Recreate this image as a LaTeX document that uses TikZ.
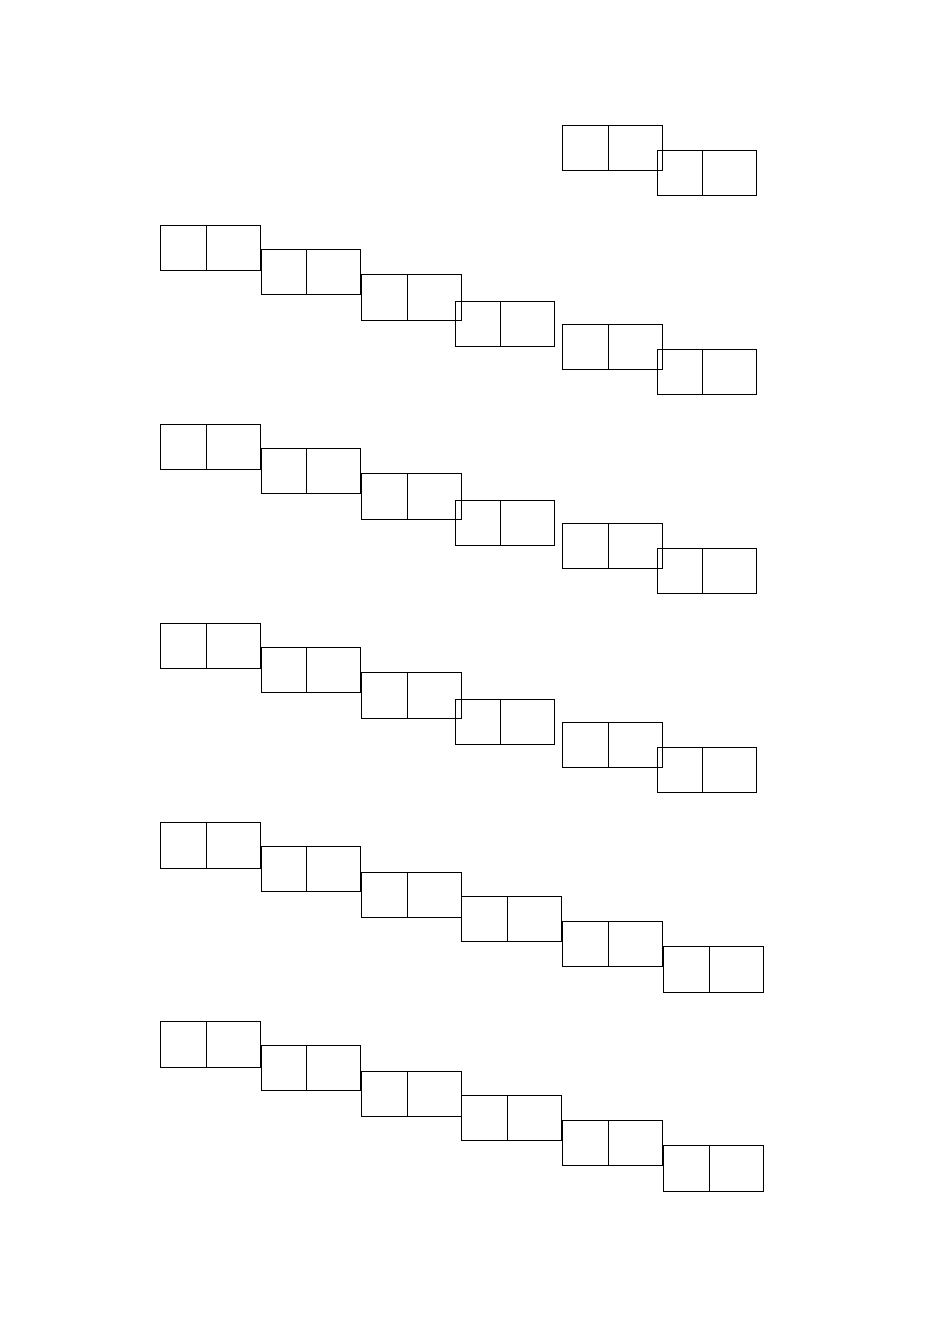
\documentclass[tikz,border=0pt]{standalone}
\usetikzlibrary{positioning}

\tikzset{
  leftcell/.style={draw, rectangle, minimum width=1cm, minimum height=1cm, inner sep=0pt, outer sep=0pt, anchor=north west},
  rightcell/.style={draw, rectangle, minimum width=1.2cm, minimum height=1cm, inner sep=0pt, outer sep=0pt}
}

\begin{document}
\begin{tikzpicture}[x=0.022105cm, y=-0.022105cm]
    \useasboundingbox (0,0) rectangle (950,1344);

    % first line: only the two last boxes
    \foreach \name/\x/\y in {e/562.7/125.2, f/657.3/150.3} {
        \node (r0\name-l) [leftcell] at (\x,\y) {};
        \node (r0\name-r) [rightcell, right=0pt of r0\name-l] {};
    }

    % the five full lines
    \foreach \r/\dx/\dd in {1/0/0, 2/0/0, 3/0/0, 4/6.5/-2, 5/6.5/-2} {
        \pgfmathsetmacro{\rowy}{225.3+199.1*(\r-1)}
        \foreach \name/\x/\dy/\s/\t in {a/160.7/0/0/0, b/261/23.8/0/0, c/361.7/49.3/0/0, d/455.3/75.7/1/1, e/562.7/98.8/0/0, f/657.3/124/1/0} {
            \node (r\r\name-l) [leftcell] at (\x+\s*\dx, \rowy+\dy+\t*\dd) {};
            \node (r\r\name-r) [rightcell, right=0pt of r\r\name-l] {};
        }
    }
\end{tikzpicture}
\end{document}
